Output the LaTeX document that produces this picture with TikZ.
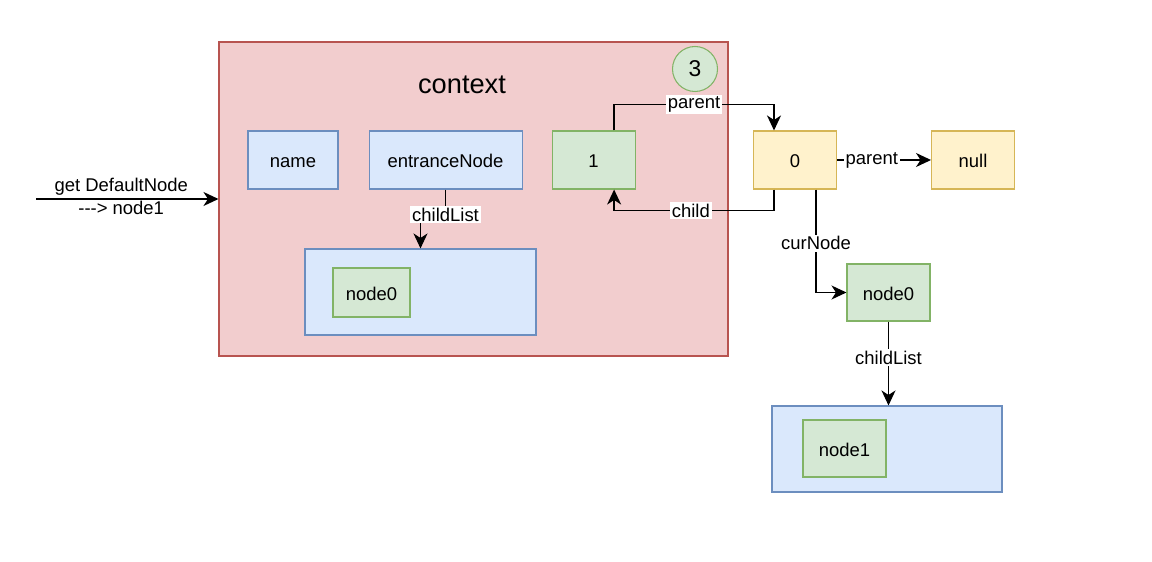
\documentclass[tikz,border=0pt]{standalone}
\usepackage{fontspec}
\setmainfont{Liberation Sans}
\usepackage{xcolor}
\usetikzlibrary{arrows.meta, positioning, calc}
\definecolor{ctxfill}{HTML}{F2CDCE}
\definecolor{ctxline}{HTML}{B85450}
\definecolor{bluefill}{HTML}{DAE8FC}
\definecolor{blueline}{HTML}{6C8EBF}
\definecolor{greenfill}{HTML}{D5E8D4}
\definecolor{greenline}{HTML}{82B366}
\definecolor{yellowfill}{HTML}{FFF2CC}
\definecolor{yellowline}{HTML}{D6B656}
\newcommand{\nodefont}{\fontsize{10.5}{13}\selectfont}
\tikzset{
    ctxbox/.style={rectangle, draw=ctxline, fill=ctxfill, line width=0.6pt},
    bluebox/.style={rectangle, draw=blueline, fill=bluefill, line width=0.6pt, font=\nodefont, text height=9pt, text depth=0pt},
    greenbox/.style={rectangle, draw=greenline, fill=greenfill, line width=0.6pt, font=\nodefont, text height=9pt, text depth=0pt, minimum width=1.66cm, minimum height=1.14cm},
    yellowbox/.style={rectangle, draw=yellowline, fill=yellowfill, line width=0.6pt, font=\nodefont, text height=9pt, text depth=0pt, minimum width=1.66cm, minimum height=1.16cm},
    lbl/.style={fill=white, inner sep=1pt, font=\nodefont},
    arrow/.style={-{Stealth[length=3mm, width=2.8mm, inset=0.9mm]}, line width=0.75pt},
}

\begin{document}
\begin{tikzpicture}
    \useasboundingbox (0,0) rectangle (23.04,-11.24);

    \node[ctxbox, minimum width=10.18cm, minimum height=6.28cm] (context) at (9.47,-3.98) {};
    \node[font=\fontsize{15.5}{18}\selectfont] (ctxtitle) at (9.24,-1.7) {context};
    \node[circle, draw=greenline, fill=greenfill, line width=0.6pt, minimum size=0.9cm, inner sep=0pt, font=\fontsize{13}{15}\selectfont] (step3) at (13.9,-1.38) {3};

    \node[bluebox, minimum width=1.8cm, minimum height=1.16cm] (name) at (5.86,-3.2) {name};
    \node[bluebox, minimum width=3.06cm, minimum height=1.16cm, right=0.6cm of name] (entrance) {entranceNode};
    \node[greenbox, minimum height=1.16cm, right=0.58cm of entrance] (one) {1};
    \node[yellowbox] (zero) at (15.9,-3.2) {0};
    \node[yellowbox, right=1.88cm of zero] (null) {null};

    \node[bluebox, minimum width=4.62cm, minimum height=1.72cm] (list0) at (8.41,-5.84) {};
    \node[greenbox, minimum width=1.54cm, minimum height=0.98cm] (node0a) at (7.43,-5.85) {node0};
    \node[greenbox] (node0b) at (17.77,-5.85) {node0};
    \node[bluebox, minimum width=4.6cm, minimum height=1.72cm] (list1) at (17.74,-8.98) {};
    \node[greenbox] (node1) at (16.89,-8.97) {node1};

    \coordinate (start) at (0.72,-3.98);

    \draw[arrow] (start) -- node[align=center, pos=0.467, yshift=1.4pt, font=\nodefont] {get DefaultNode\\\mbox{-}\mbox{-}\mbox{-}> node1} (context.west);
    \draw[arrow] (entrance.south) -- ++(0,-0.5) node[lbl] {childList} -| (list0.north);
    \draw[arrow] ([xshift=0.41cm]one.north) -- ++(0,0.52) -| node[lbl, pos=0.25] {parent} ([xshift=-0.42cm]zero.north);
    \draw[arrow] ([xshift=-0.42cm]zero.south) -- ++(0,-0.42) -| node[lbl, pos=0.26] {child} ([xshift=0.41cm]one.south);
    \draw[arrow] (zero) -- node[lbl, pos=0.37] {parent} (null);
    \draw[arrow] ([xshift=0.42cm]zero.south) |- node[lbl, pos=0.26] {curNode} (node0b.west);
    \draw[arrow] (node0b.south) -- node[lbl, pos=0.43] {childList} (node0b.south |- list1.north);
\end{tikzpicture}
\end{document}
